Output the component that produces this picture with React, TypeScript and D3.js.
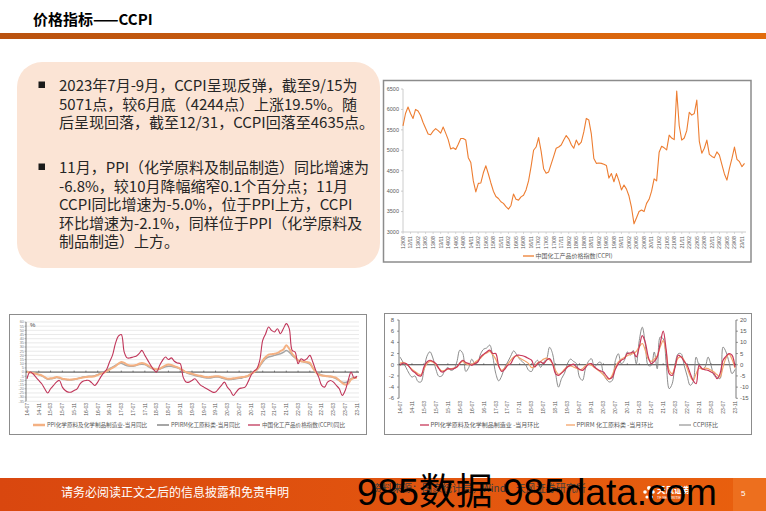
import React from 'react';
import * as d3 from 'd3';

// ---------------- DATA ----------------
const ccpiDateLabels = ['12/08','12/11','13/02','13/05','13/08','13/11','14/02','14/05','14/08','14/11','15/02','15/05','15/08','15/11','16/02','16/05','16/08','16/11','17/02','17/05','17/08','17/11','18/02','18/05','18/08','18/11','19/02','19/05','19/08','19/11','20/02','20/05','20/08','20/11','21/02','21/05','21/08','21/11','22/02','22/05','22/08','22/11','23/02','23/05','23/08','23/11'];

// monthly CCPI level from 2012-08 to 2023-12
const ccpiIndex = [
  5600, 5900, 6060, 5900, 5780, 6000, 5960, 5850, 5680, 5540,
  5400, 5380, 5470, 5530, 5480, 5420, 5570, 5420, 5260, 5030,
  5060, 5020, 5150, 5290, 5290, 5250, 4820, 4700, 4250, 3980,
  4190, 4200, 4450, 4620, 4420, 4200, 4000, 3870, 3820, 3740,
  3700, 3620, 3560, 3650, 3930, 3800, 3780, 3860, 3900, 4030,
  4250, 4600, 5000, 5080, 5310, 4980, 4550, 4440, 4470, 4660,
  4850, 5050, 5080, 5130, 5250, 5360, 5280, 5140, 5050, 5250,
  5130, 5200, 5450, 5780, 5740, 5400, 4800, 4680, 4690, 4680,
  4660, 4630, 4320, 4430, 4230, 4430, 4250, 4030, 4150, 4050,
  3880, 3600, 3200, 3350, 3500, 3540, 3500, 3700, 3800, 4000,
  4300, 4250, 4950, 5100, 5060, 5010, 5370, 5300, 5260, 6450,
  5600, 5250, 5300, 5480, 5930, 5860, 5900, 6230, 5220, 4930,
  5050, 5250, 4900, 4850, 4820, 4960, 4880, 4650, 4420, 4270,
  4560, 4800, 5080, 4780, 4720, 4600, 4680,
];
const ccpiAxisValues = [3000, 3500, 4000, 4500, 5000, 5500, 6000, 6500];

const monthLabels = ['14-07','14-11','15-03','15-07','15-11','16-03','16-07','16-11','17-03','17-07','17-11','18-03','18-07','18-11','19-03','19-07','19-11','20-03','20-07','20-11','21-03','21-07','21-11','22-03','22-07','22-11','23-03','23-07','23-11'];

// monthly 2014-07 .. 2023-11, year-on-year %
const ppiChemYoY = [
  0, -0.5, -1, -2, -3, -4, -6, -8, -7.5, -7,
  -6, -6.5, -8, -8.5, -9, -9, -8.5, -8, -7, -6.5,
  -6, -5.5, -5.5, -5, -3.5, -2, -1, 1, 3, 5,
  7, 10, 12, 11, 9, 8, 8, 8.5, 10, 11,
  10, 8, 6, 4, 3.5, 4, 6, 8, 9, 8.5,
  7, 6, 4, 2, 0, -1, -2, -3, -4, -4.5,
  -5.5, -6, -6, -5.5, -5, -5, -6, -7, -8, -8,
  -7.5, -7, -6.5, -6, -5.5, -4.5, -2, 0, 3, 8,
  14, 18, 21, 21.5, 22, 23, 25, 27, 32, 28,
  22, 18, 14, 13, 12.5, 12, 11, 5, 0, -3,
  -4, -4.5, -5, -5, -6, -7, -10, -13, -15, -14,
  -9, -7, -6.8,
];
const ppirmChemYoY = [
  0.5, 0, -0.5, -1.5, -3, -4.5, -6.5, -8.5, -8, -7.5,
  -6.5, -7, -8.5, -9, -9.5, -9.5, -9, -8, -7, -6,
  -5.5, -5, -5, -4.5, -3, -1.5, 0, 2, 4, 6,
  8, 10, 10.5, 9, 7.5, 7, 7, 8, 9, 9.5,
  9, 7, 5, 3.5, 3, 3.5, 5, 6.5, 7, 7,
  6, 5, 3.5, 1.5, -0.5, -2, -3, -4, -5, -5.5,
  -6.5, -7, -7, -6.5, -6, -6, -7, -8, -9, -9,
  -8.5, -8, -7.5, -7, -6, -5, -2.5, 0, 2.5, 7,
  12, 16, 18, 19, 20, 21, 22, 23.5, 26, 24,
  20, 17, 14, 13, 12, 11, 9.5, 5, 1, -2,
  -3.5, -4.5, -5, -5.5, -6.5, -8, -10, -12, -12.5, -11,
  -8, -6.5, -6,
];
const ccpiYoY = [
  -8, 0, -2, -6, -10, -14, -20, -25, -20, -16,
  -12, -10, -18, -22, -24, -24, -22, -20, -14, -11,
  -10, -10, -13, -16, -12, -6, -1, 3, 12, 20,
  34, 43, 45, 24, 17, 17, 18, 19, 22, 26,
  20, 14, 8, 3, 0, 8, 14, 18, 15, 17,
  13, 11, 10, -6, -12, -12, -10, -8, -12, -16,
  -18, -20, -22, -24, -24, -20, -16, -12, -18, -22,
  -28, -24, -20, -19, -18, -12, -4, 1, 4, 14,
  38, 46, 54, 50, 48, 52, 46, 52, 58, 52,
  26, 24, 10, 16, 14, 16, 20, 12, 2, -6,
  -16, -18, -12, -10, -12, -16, -20, -28, -22, -10,
  0, -7, -5,
];
const yoyAxisValues = [60, 55, 50, 45, 40, 35, 30, 25, 20, 15, 10, 5, 0, -5, -10, -15, -20, -25, -30, -35];

// monthly 2014-07 .. 2023-11, month-on-month %
const ppiChemMoM = [
  -0.1, 0.3, 0.2, -0.3, -1.0, -1.4, -1.9, -2.0, -0.4, 0.5,
  0.8, 0.6, 0.2, -0.7, -1.3, -1.1, -0.7, -0.8, -0.7, -0.4,
  0.3, 0.8, 0.4, 0.2, -0.1, 0.2, 0.5, 1.4, 1.9, 2.3,
  2.6, 2.0, 2.0, -0.2, -1.2, -0.8, -0.1, 0.2, 1.2, 1.7,
  1.7, 1.6, 1.4, 1.1, 0.8, -0.4, 0.2, 0.5, 0.2, 0.8,
  1.1, 0.2, -1.6, -1.9, -1.5, -1.0, -0.4, -0.1, 0.1, -0.4,
  -0.8, -1.0, -0.5, 0.1, 0.2, -0.4, -0.8, -1.1, -1.3, -2.0,
  -2.5, -2.2, -0.8, 0.2, 0.8, 1.1, 2.0, 2.1, 2.3, 1.4,
  3.2, 5.2, 4.0, 1.4, 0.2, 0.6, 1.4, 3.8, 6.0, 2.6,
  -1.6, -1.9, -0.4, 1.7, 1.4, 0.6, -0.1, -1.5, -2.8, -3.4,
  -0.1, -0.7, -0.9, -1.0, -1.3, -1.6, -2.5, -1.6, 0.8, 1.5,
  2.0, 1.7, -0.4,
];
const ppirmChemMoM = [
  0.3, 0.4, 0.2, -0.3, -0.8, -1.2, -1.6, -1.8, -0.8, 0.2,
  0.6, 0.5, 0, -0.6, -1.1, -1.0, -0.8, -0.7, -0.6, -0.4,
  0.3, 0.6, 0.2, 0, 0.1, 0.4, 0.8, 1.2, 1.8, 2.1,
  2.4, 1.8, 1.0, -0.3, -1.0, -0.6, 0.1, 0.8, 1.4, 1.6,
  1.2, 0.9, 0.6, 0.2, -0.5, -0.3, 0.3, 0.6, 1.0, 1.2,
  0.9, 0.2, -1.0, -1.7, -1.4, -0.8, -0.3, -0.2, -0.4, -0.6,
  -0.9, -0.7, -0.2, 0.1, -0.1, -0.5, -0.9, -1.3, -1.8, -2.4,
  -2.6, -1.8, -0.4, 0.5, 1.0, 1.3, 1.6, 1.9, 2.0, 2.4,
  3.2, 3.8, 2.6, 1.0, 0.6, 1.0, 1.6, 3.2, 4.3, 2.2,
  -1.0, -1.6, -0.2, 1.2, 1.4, 0.8, -0.6, -2.0, -2.8, -1.6,
  -0.6, -0.8, -0.6, -0.7, -1.0, -1.3, -1.8, -2.2, -0.4, 1.2,
  1.9, 1.0, -0.6,
];
const ccpiMoM = [
  3.5, 1.2, -1.2, -3.8, -5.5, -5, -7.5, -7.7, -2.5, 3.8,
  5.8, 3, -2, -5.2, -5, -2.5, -1.2, -2.5, -2, 1.2,
  6.5, 5, -3, -1.2, 2.5, 0.5, 1.2, 5, 7, 7.5,
  8.8, 3.8, -3.8, -7.2, -5, -1.2, 1.2, 3.8, 6.2, 4.5,
  2.5, 1.2, 0, -2.5, -3, 0.5, 2, -1.2, 1.2, 2.5,
  7.8, 5, -3.8, -10, -6.2, -3.8, 0.5, 2.5, 1.5, 0.5,
  -5.5, -7, -1.8, 1.5, 2.7, -1, 0.5, 1.2, -4, -6.5,
  -7.7, -7, 1.9, 4.9, 0.4, 1.9, 5.7, 4.2, 6.4, 0.4,
  10.9, 16.8, 9.4, -0.3, -0.3, 5.7, -1.8, 12.4, 11.6, 0.4,
  -10.7, -8.5, 0.4, 4.9, 4.9, -0.3, -5, -9.2, -7.7, 3.4,
  -0.3, -1.8, -1, 3.4, -0.3, -4.8, -5.5, -6.2, 7.9, 5.7,
  1.2, -4, -2.1,
];
const momLeftAxis = [8, 6, 4, 2, 0, -2, -4, -6];
const momRightAxis = [20, 15, 10, 5, 0, -5, -10, -15];

const bullet1 = [
  '2023年7月-9月，CCPI呈现反弹，截至9/15为',
  '5071点，较6月底（4244点）上涨19.5%。随',
  '后呈现回落，截至12/31，CCPI回落至4635点。',
];
const bullet2 = [
  '11月，PPI（化学原料及制品制造）同比增速为',
  '-6.8%，较10月降幅缩窄0.1个百分点；11月',
  'CCPI同比增速为-5.0%，位于PPI上方，CCPI',
  '环比增速为-2.1%，同样位于PPI（化学原料及',
  '制品制造）上方。',
];

// ---------------- STYLE ----------------
const SANS = '"Liberation Sans", Arial, "Noto Sans CJK SC", sans-serif';
const CJK = '"Noto Sans CJK SC", "Liberation Sans", sans-serif';
const LABEL = '#595959';

function RotLabels({ labels, xs, y, fs }: { labels: string[]; xs: number[]; y: number; fs: number }) {
  return (
    <g>
      {labels.map((t, k) => (
        <text key={k} transform={`translate(${xs[k] + fs * 0.36},${y}) rotate(-90)`} textAnchor="end"
          fontSize={fs} fontFamily={SANS} fill={LABEL}>{t}</text>
      ))}
    </g>
  );
}

export default function App() {
  // ---- top chart (CCPI level) ----
  const tX = d3.scaleLinear().domain([0, 135]).range([403, 742]);
  const tY = d3.scaleLinear().domain([3000, 6500]).range([232, 89]);
  const tLine = d3.line<number>().x((_, i) => tX(i)).y(d => tY(d));

  // ---- bottom-left (YoY) ----
  const lX = d3.scaleLinear().domain([0, 112]).range([27, 357]);
  const lY = d3.scaleLinear().domain([-35, 60]).range([401.3, 322]);
  const lLine = d3.line<number>().x((_, i) => lX(i)).y(d => lY(d)).curve(d3.curveCatmullRom.alpha(0.5));

  // ---- bottom-right (MoM) ----
  const rX = d3.scaleLinear().domain([0, 112]).range([400, 735]);
  const rYL = d3.scaleLinear().domain([-6, 8]).range([398.3, 320]);
  const rYR = d3.scaleLinear().domain([-15, 20]).range([398.3, 320]);
  const rLineL = d3.line<number>().x((_, i) => rX(i)).y(d => rYL(d)).curve(d3.curveCatmullRom.alpha(0.5));
  const rLineR = d3.line<number>().x((_, i) => rX(i)).y(d => rYR(d)).curve(d3.curveCatmullRom.alpha(0.5));

  const lineY1 = [91, 109.5, 128];
  const lineY2 = [173, 191.5, 210, 228.5, 247];

  return (
    <svg width={766} height={511} viewBox="0 0 766 511"
      style={{ position: 'absolute', left: 0, top: 0, background: '#fff' }}>
      <defs>
        <linearGradient id="hdr" x1="0" x2="1" y1="0" y2="0">
          <stop offset="0" stopColor="#b9520f" />
          <stop offset="1" stopColor="#e26b0c" />
        </linearGradient>
        <linearGradient id="ftr" x1="0" x2="1" y1="0" y2="0">
          <stop offset="0" stopColor="#d9470f" />
          <stop offset="1" stopColor="#e9600e" />
        </linearGradient>
      </defs>
      <rect x={0} y={0} width={766} height={511} fill="#fff" />

      {/* header */}
      <text x={33} y={25} fontSize={15} fontWeight="bold" fontFamily={CJK} fill="#000">价格指标——CCPI</text>
      <rect x={0} y={33} width={766} height={6} fill="url(#hdr)" />

      {/* text box */}
      <rect x={17} y={62} width={363} height={206} rx={25} ry={25} fill="#fbe4d5" />
      {[lineY1[0], lineY2[0]].map((yy, k) => (
        <rect key={k} x={38.5} y={yy - 9.5} width={6.5} height={6.5} fill="#1a1a1a" />
      ))}
      {bullet1.map((t, k) => (
        <text key={'a' + k} x={59} y={lineY1[k]} fontSize={15} fontFamily={CJK} fill="#262626">{t}</text>
      ))}
      {bullet2.map((t, k) => (
        <text key={'b' + k} x={59} y={lineY2[k]} fontSize={15} fontFamily={CJK} fill="#262626">{t}</text>
      ))}

      {/* ---------- top chart ---------- */}
      <rect x={383.5} y={80.5} width={367.5} height={181.5} fill="#fff" stroke="#8c8c8c" strokeWidth={1.5} />
      <line x1={403} x2={403} y1={89} y2={232} stroke="#bfbfbf" strokeWidth={0.8} />
      {ccpiAxisValues.map(v => (
        <g key={v}>
          <line x1={401} x2={403} y1={tY(v)} y2={tY(v)} stroke="#bfbfbf" strokeWidth={0.8} />
          <text x={399} y={tY(v)} dy="0.35em" textAnchor="end" fontSize={5.5} fontFamily={SANS} fill={LABEL}>{v}</text>
        </g>
      ))}
      <line x1={403} x2={746} y1={232} y2={232} stroke="#bfbfbf" strokeWidth={0.8} />
      {ccpiDateLabels.map((_, k) => (
        <line key={k} x1={tX(k * 3)} x2={tX(k * 3)} y1={232} y2={234} stroke="#bfbfbf" strokeWidth={0.6} />
      ))}
      <RotLabels labels={ccpiDateLabels} xs={ccpiDateLabels.map((_, k) => tX(k * 3))} y={236} fs={5.2} />
      <path d={tLine(ccpiIndex) || ''} fill="none" stroke="#ed7d31" strokeWidth={1.1} strokeLinejoin="round" />
      <line x1={523} x2={534} y1={256} y2={256} stroke="#ed7d31" strokeWidth={1.3} />
      <text x={535.5} y={256} dy="0.35em" fontSize={6} fontFamily={CJK} fill={LABEL}>中国化工产品价格指数(CCPI)</text>

      {/* ---------- bottom-left chart (YoY) ---------- */}
      <rect x={9.5} y={314.5} width={357} height={120} fill="#fff" stroke="#8c8c8c" strokeWidth={1} />
      {yoyAxisValues.map(v => (
        <g key={v}>
          <line x1={26} x2={359} y1={lY(v)} y2={lY(v)} stroke={v === 0 ? '#404040' : '#dcdcdc'} strokeWidth={v === 0 ? 1 : 0.6} />
          <line x1={24.5} x2={26} y1={lY(v)} y2={lY(v)} stroke="#7f7f7f" strokeWidth={0.5} />
          <text x={24} y={lY(v)} dy="0.35em" textAnchor="end" fontSize={3.9} fontFamily={SANS} fill="#7f7f7f">{v}</text>
        </g>
      ))}
      <line x1={26} x2={26} y1={322} y2={401.3} stroke="#595959" strokeWidth={0.8} />
      <text x={30} y={327} fontSize={6} fontFamily={SANS} fill="#404040">%</text>
      {monthLabels.map((_, k) => (
        <line key={k} x1={lX(k * 4)} x2={lX(k * 4)} y1={lY(0) - 1.5} y2={lY(0)} stroke="#404040" strokeWidth={0.6} />
      ))}
      <RotLabels labels={monthLabels} xs={monthLabels.map((_, k) => lX(k * 4))} y={403} fs={5} />
      <path d={lLine(ppirmChemYoY) || ''} fill="none" stroke="#a6a6a6" strokeWidth={1.5} />
      <path d={lLine(ppiChemYoY) || ''} fill="none" stroke="#f4b183" strokeWidth={2} />
      <path d={lLine(ccpiYoY) || ''} fill="none" stroke="#c0365a" strokeWidth={1.1} />
      <line x1={33} x2={45} y1={425} y2={425} stroke="#f4b183" strokeWidth={2.5} />
      <text x={47} y={425} dy="0.35em" fontSize={5.6} fontFamily={CJK} fill={LABEL}>PPI化学原料及化学制品制造业-当月同比</text>
      <line x1={157} x2={169} y1={425} y2={425} stroke="#a6a6a6" strokeWidth={2} />
      <text x={171} y={425} dy="0.35em" fontSize={5.6} fontFamily={CJK} fill={LABEL}>PPIRM化工原料类-当月同比</text>
      <line x1={248} x2={260} y1={425} y2={425} stroke="#c0365a" strokeWidth={1.3} />
      <text x={262} y={425} dy="0.35em" fontSize={5.6} fontFamily={CJK} fill={LABEL}>中国化工产品价格指数(CCPI)同比</text>

      {/* ---------- bottom-right chart (MoM) ---------- */}
      <rect x={384.5} y={313.5} width={367} height={121} fill="#fff" stroke="#8c8c8c" strokeWidth={1} />
      <line x1={399} x2={399} y1={320} y2={398.3} stroke="#595959" strokeWidth={0.8} />
      {momLeftAxis.map(v => (
        <g key={v}>
          <line x1={397} x2={399} y1={rYL(v)} y2={rYL(v)} stroke="#595959" strokeWidth={0.6} />
          <text x={394} y={rYL(v)} dy="0.35em" textAnchor="end" fontSize={6} fontFamily={SANS} fill={LABEL}>{v}</text>
        </g>
      ))}
      <line x1={736} x2={736} y1={320} y2={398.3} stroke="#595959" strokeWidth={0.8} />
      {momRightAxis.map(v => (
        <g key={v}>
          <line x1={736} x2={738} y1={rYR(v)} y2={rYR(v)} stroke="#595959" strokeWidth={0.6} />
          <text x={740} y={rYR(v)} dy="0.35em" textAnchor="start" fontSize={6} fontFamily={SANS} fill={LABEL}>{v}</text>
        </g>
      ))}
      <line x1={399} x2={736} y1={rYL(0)} y2={rYL(0)} stroke="#404040" strokeWidth={1} />
      {monthLabels.map((_, k) => (
        <line key={k} x1={rX(k * 4)} x2={rX(k * 4)} y1={rYL(0) - 1.5} y2={rYL(0)} stroke="#404040" strokeWidth={0.6} />
      ))}
      <RotLabels labels={monthLabels} xs={monthLabels.map((_, k) => rX(k * 4))} y={401} fs={5} />
      <path d={rLineR(ccpiMoM) || ''} fill="none" stroke="#7f7f7f" strokeWidth={0.9} />
      <path d={rLineL(ppirmChemMoM) || ''} fill="none" stroke="#f4a46a" strokeWidth={1.2} />
      <path d={rLineL(ppiChemMoM) || ''} fill="none" stroke="#c8385a" strokeWidth={1.2} />
      <line x1={420} x2={429} y1={425} y2={425} stroke="#c8385a" strokeWidth={1.3} />
      <text x={430.5} y={425} dy="0.35em" fontSize={6} fontFamily={CJK} fill={LABEL}>PPI化学原料及化学制品制造业 -当月环比</text>
      <line x1={566} x2={575} y1={425} y2={425} stroke="#f4a46a" strokeWidth={1.3} />
      <text x={576.5} y={425} dy="0.35em" fontSize={6} fontFamily={CJK} fill={LABEL}>PPIRM 化工原料类 -当月环比</text>
      <line x1={679} x2={691} y1={425} y2={425} stroke="#7f7f7f" strokeWidth={1} />
      <text x={693} y={425} dy="0.35em" fontSize={6} fontFamily={CJK} fill={LABEL}>CCPI环比</text>

      {/* ---------- footer ---------- */}
      <rect x={0} y={478} width={766} height={33} fill="url(#ftr)" />
      <rect x={733} y={478} width={33} height={33} fill="#f07a2a" opacity={0.6} />
      <text x={61} y={497} fontSize={12} fontFamily={CJK} fill="#fff">请务必阅读正文之后的信息披露和免责申明</text>
      <text x={372} y={492} fontSize={10} fontFamily={CJK} fill="#3a3a3a">资料来源：国家统计局，Wind，天风证券研究所</text>
      <g fill="#fff">
        <circle cx={649} cy={488} r={2} />
        <circle cx={645} cy={492} r={1.8} />
        <circle cx={653} cy={492} r={1.8} />
        <circle cx={647} cy={497} r={1.6} />
        <circle cx={651.5} cy={497} r={1.6} />
      </g>
      <text x={657} y={493} fontSize={8.5} fontWeight="bold" fontFamily={CJK} fill="#fff">天风证券</text>
      <text x={657} y={499} fontSize={3.5} fontFamily={SANS} fill="#fff">TF SECURITIES</text>
      <text x={741} y={496} fontSize={8} fontFamily={SANS} fill="#fff">5</text>

      {/* watermark */}
      <text x={357} y={505} fontSize={37} fontFamily={'"Liberation Sans", Arial, "Noto Sans CJK SC", sans-serif'} fill="#000">985数据 985data.com</text>
    </svg>
  );
}
